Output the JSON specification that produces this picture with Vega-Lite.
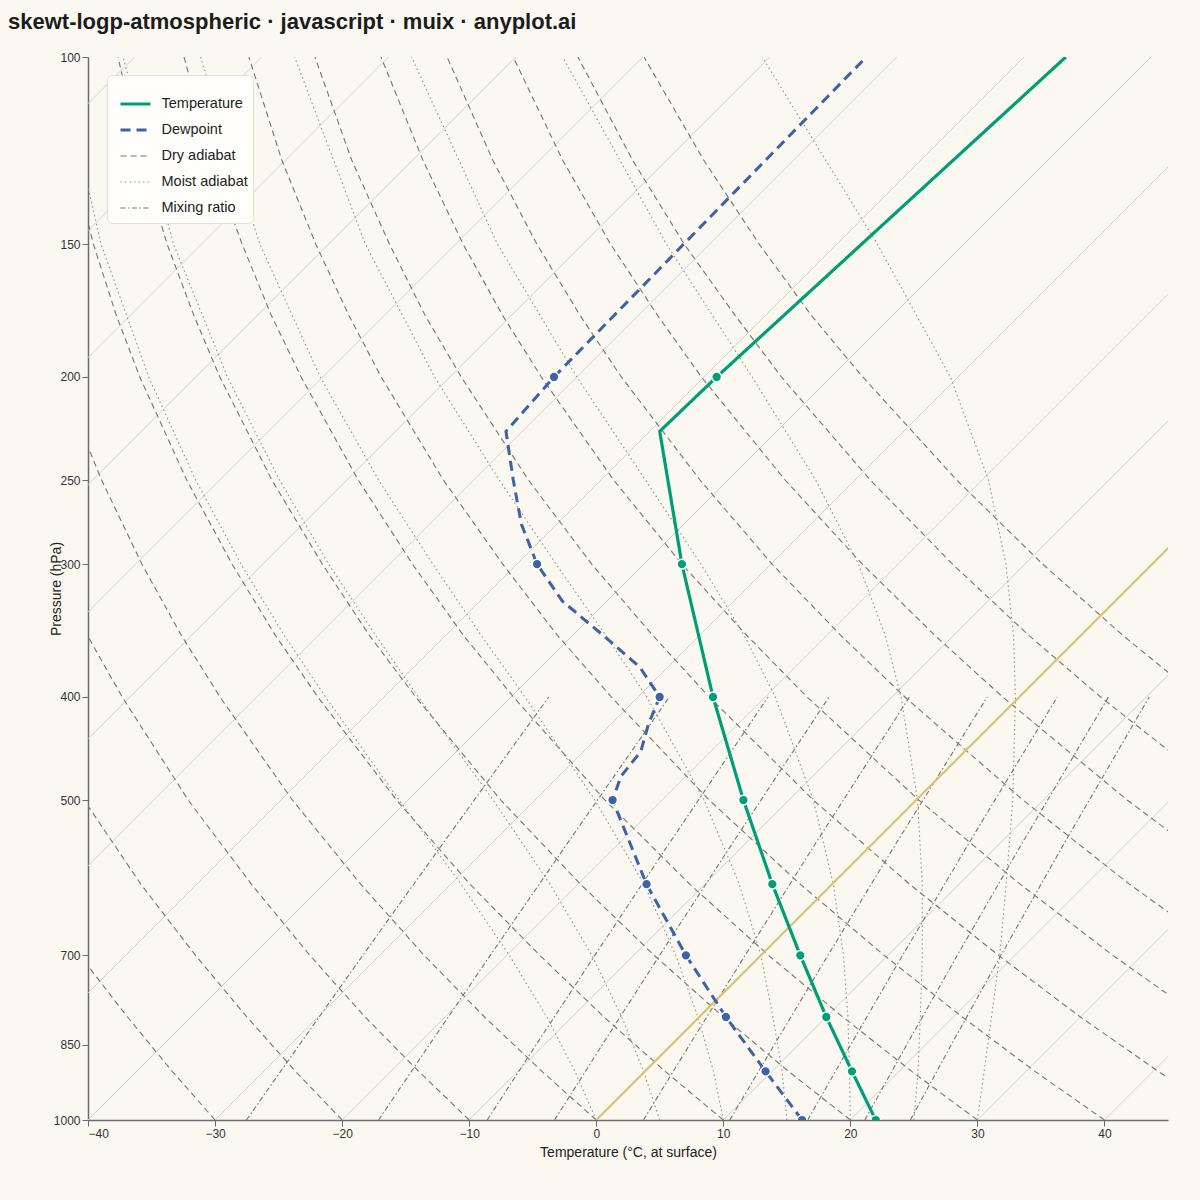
{
"$schema":"https://vega.github.io/schema/vega-lite/v6.json",
"width":1080,"height":1063,
"autosize":{"type":"none"},
"padding":{"left":88,"top":57,"right":32,"bottom":80},
"background":"#faf8f1",
"title":{"text":"skewt-logp-atmospheric · javascript · muix · anyplot.ai","anchor":"start","frame":"group","dx":-80,"offset":17,"fontSize":22,"fontWeight":"bold","font":"Liberation Sans","color":"#1c1c1c"},
"config":{"view":{"stroke":null},"font":"Liberation Sans",
 "axis":{"labelFont":"Liberation Sans","labelFontSize":12,"labelColor":"#333333","titleFont":"Liberation Sans","titleFontSize":14,"titleFontWeight":"normal","titleColor":"#222222","domainColor":"#6b6b6b","domainWidth":1.5,"tickColor":"#6b6b6b","tickSize":6,"labelPadding":2,"grid":false}},
"data":{"values":[
{"s":"Isotherm","id":"i-120","p":1000,"T":-120},{"s":"Isotherm","id":"i-120","p":100,"T":-120},
{"s":"Isotherm","id":"i-110","p":1000,"T":-110},{"s":"Isotherm","id":"i-110","p":100,"T":-110},
{"s":"Isotherm","id":"i-100","p":1000,"T":-100},{"s":"Isotherm","id":"i-100","p":100,"T":-100},
{"s":"Isotherm","id":"i-90","p":1000,"T":-90},{"s":"Isotherm","id":"i-90","p":100,"T":-90},
{"s":"Isotherm","id":"i-80","p":1000,"T":-80},{"s":"Isotherm","id":"i-80","p":100,"T":-80},
{"s":"Isotherm","id":"i-70","p":1000,"T":-70},{"s":"Isotherm","id":"i-70","p":100,"T":-70},
{"s":"Isotherm","id":"i-60","p":1000,"T":-60},{"s":"Isotherm","id":"i-60","p":100,"T":-60},
{"s":"Isotherm","id":"i-50","p":1000,"T":-50},{"s":"Isotherm","id":"i-50","p":100,"T":-50},
{"s":"Isotherm","id":"i-40","p":1000,"T":-40},{"s":"Isotherm","id":"i-40","p":100,"T":-40},
{"s":"Isotherm","id":"i-30","p":1000,"T":-30},{"s":"Isotherm","id":"i-30","p":100,"T":-30},
{"s":"Isotherm","id":"i-20","p":1000,"T":-20},{"s":"Isotherm","id":"i-20","p":100,"T":-20},
{"s":"Isotherm","id":"i-10","p":1000,"T":-10},{"s":"Isotherm","id":"i-10","p":100,"T":-10},
{"s":"Isotherm","id":"i0","p":1000,"T":0},{"s":"Isotherm","id":"i0","p":100,"T":0},
{"s":"Isotherm","id":"i10","p":1000,"T":10},{"s":"Isotherm","id":"i10","p":100,"T":10},
{"s":"Isotherm","id":"i20","p":1000,"T":20},{"s":"Isotherm","id":"i20","p":100,"T":20},
{"s":"Isotherm","id":"i30","p":1000,"T":30},{"s":"Isotherm","id":"i30","p":100,"T":30},
{"s":"Isotherm","id":"i40","p":1000,"T":40},{"s":"Isotherm","id":"i40","p":100,"T":40},

{"s":"Dry adiabat","id":"d-30","p":1000,"T":-30},{"s":"Dry adiabat","id":"d-30","p":900,"T":-37.2},{"s":"Dry adiabat","id":"d-30","p":800,"T":-45.0},{"s":"Dry adiabat","id":"d-30","p":700,"T":-53.6},{"s":"Dry adiabat","id":"d-30","p":600,"T":-63.0},
{"s":"Dry adiabat","id":"d-20","p":1000,"T":-20},{"s":"Dry adiabat","id":"d-20","p":900,"T":-27.5},{"s":"Dry adiabat","id":"d-20","p":800,"T":-35.6},{"s":"Dry adiabat","id":"d-20","p":700,"T":-44.5},{"s":"Dry adiabat","id":"d-20","p":600,"T":-54.4},{"s":"Dry adiabat","id":"d-20","p":500,"T":-65.5},{"s":"Dry adiabat","id":"d-20","p":400,"T":-78.3},
{"s":"Dry adiabat","id":"d-10","p":1000,"T":-10},{"s":"Dry adiabat","id":"d-10","p":900,"T":-17.8},{"s":"Dry adiabat","id":"d-10","p":800,"T":-26.3},{"s":"Dry adiabat","id":"d-10","p":700,"T":-35.5},{"s":"Dry adiabat","id":"d-10","p":600,"T":-45.7},{"s":"Dry adiabat","id":"d-10","p":500,"T":-57.3},{"s":"Dry adiabat","id":"d-10","p":400,"T":-70.6},{"s":"Dry adiabat","id":"d-10","p":350,"T":-78.2},{"s":"Dry adiabat","id":"d-10","p":300,"T":-86.6},{"s":"Dry adiabat","id":"d-10","p":250,"T":-96.1},
{"s":"Dry adiabat","id":"d0","p":1000,"T":0},{"s":"Dry adiabat","id":"d0","p":900,"T":-8.1},{"s":"Dry adiabat","id":"d0","p":800,"T":-16.9},{"s":"Dry adiabat","id":"d0","p":700,"T":-26.5},{"s":"Dry adiabat","id":"d0","p":600,"T":-37.1},{"s":"Dry adiabat","id":"d0","p":500,"T":-49.1},{"s":"Dry adiabat","id":"d0","p":400,"T":-62.9},{"s":"Dry adiabat","id":"d0","p":350,"T":-70.8},{"s":"Dry adiabat","id":"d0","p":300,"T":-79.5},{"s":"Dry adiabat","id":"d0","p":250,"T":-89.3},{"s":"Dry adiabat","id":"d0","p":200,"T":-100.7},{"s":"Dry adiabat","id":"d0","p":175,"T":-107.1},
{"s":"Dry adiabat","id":"d10","p":1000,"T":10},{"s":"Dry adiabat","id":"d10","p":900,"T":1.6},{"s":"Dry adiabat","id":"d10","p":800,"T":-7.5},{"s":"Dry adiabat","id":"d10","p":700,"T":-17.4},{"s":"Dry adiabat","id":"d10","p":600,"T":-28.5},{"s":"Dry adiabat","id":"d10","p":500,"T":-40.9},{"s":"Dry adiabat","id":"d10","p":400,"T":-55.2},{"s":"Dry adiabat","id":"d10","p":350,"T":-63.4},{"s":"Dry adiabat","id":"d10","p":300,"T":-72.4},{"s":"Dry adiabat","id":"d10","p":250,"T":-82.6},{"s":"Dry adiabat","id":"d10","p":200,"T":-94.4},{"s":"Dry adiabat","id":"d10","p":175,"T":-101.1},{"s":"Dry adiabat","id":"d10","p":150,"T":-108.5},{"s":"Dry adiabat","id":"d10","p":125,"T":-116.8},{"s":"Dry adiabat","id":"d10","p":100,"T":-126.5},
{"s":"Dry adiabat","id":"d20","p":1000,"T":20},{"s":"Dry adiabat","id":"d20","p":900,"T":11.3},{"s":"Dry adiabat","id":"d20","p":800,"T":1.9},{"s":"Dry adiabat","id":"d20","p":700,"T":-8.4},{"s":"Dry adiabat","id":"d20","p":600,"T":-19.8},{"s":"Dry adiabat","id":"d20","p":500,"T":-32.7},{"s":"Dry adiabat","id":"d20","p":400,"T":-47.5},{"s":"Dry adiabat","id":"d20","p":350,"T":-56.0},{"s":"Dry adiabat","id":"d20","p":300,"T":-65.3},{"s":"Dry adiabat","id":"d20","p":250,"T":-75.9},{"s":"Dry adiabat","id":"d20","p":200,"T":-88.1},{"s":"Dry adiabat","id":"d20","p":175,"T":-95.0},{"s":"Dry adiabat","id":"d20","p":150,"T":-102.7},{"s":"Dry adiabat","id":"d20","p":125,"T":-111.3},{"s":"Dry adiabat","id":"d20","p":100,"T":-121.3},
{"s":"Dry adiabat","id":"d30","p":1000,"T":30},{"s":"Dry adiabat","id":"d30","p":900,"T":21.0},{"s":"Dry adiabat","id":"d30","p":800,"T":11.3},{"s":"Dry adiabat","id":"d30","p":700,"T":0.6},{"s":"Dry adiabat","id":"d30","p":600,"T":-11.2},{"s":"Dry adiabat","id":"d30","p":500,"T":-24.5},{"s":"Dry adiabat","id":"d30","p":400,"T":-39.8},{"s":"Dry adiabat","id":"d30","p":350,"T":-48.6},{"s":"Dry adiabat","id":"d30","p":300,"T":-58.2},{"s":"Dry adiabat","id":"d30","p":250,"T":-69.1},{"s":"Dry adiabat","id":"d30","p":200,"T":-81.7},{"s":"Dry adiabat","id":"d30","p":175,"T":-88.9},{"s":"Dry adiabat","id":"d30","p":150,"T":-96.8},{"s":"Dry adiabat","id":"d30","p":125,"T":-105.8},{"s":"Dry adiabat","id":"d30","p":100,"T":-116.1},
{"s":"Dry adiabat","id":"d40","p":1000,"T":40},{"s":"Dry adiabat","id":"d40","p":900,"T":30.7},{"s":"Dry adiabat","id":"d40","p":800,"T":20.7},{"s":"Dry adiabat","id":"d40","p":700,"T":9.7},{"s":"Dry adiabat","id":"d40","p":600,"T":-2.5},{"s":"Dry adiabat","id":"d40","p":500,"T":-16.3},{"s":"Dry adiabat","id":"d40","p":400,"T":-32.1},{"s":"Dry adiabat","id":"d40","p":350,"T":-41.2},{"s":"Dry adiabat","id":"d40","p":300,"T":-51.1},{"s":"Dry adiabat","id":"d40","p":250,"T":-62.4},{"s":"Dry adiabat","id":"d40","p":200,"T":-75.4},{"s":"Dry adiabat","id":"d40","p":175,"T":-82.8},{"s":"Dry adiabat","id":"d40","p":150,"T":-91.0},{"s":"Dry adiabat","id":"d40","p":125,"T":-100.3},{"s":"Dry adiabat","id":"d40","p":100,"T":-111.0},
{"s":"Dry adiabat","id":"d50","p":1000,"T":50},{"s":"Dry adiabat","id":"d50","p":900,"T":40.4},{"s":"Dry adiabat","id":"d50","p":800,"T":30.0},{"s":"Dry adiabat","id":"d50","p":700,"T":18.7},{"s":"Dry adiabat","id":"d50","p":600,"T":6.1},{"s":"Dry adiabat","id":"d50","p":500,"T":-8.1},{"s":"Dry adiabat","id":"d50","p":400,"T":-24.4},{"s":"Dry adiabat","id":"d50","p":350,"T":-33.7},{"s":"Dry adiabat","id":"d50","p":300,"T":-44.1},{"s":"Dry adiabat","id":"d50","p":250,"T":-55.7},{"s":"Dry adiabat","id":"d50","p":200,"T":-69.1},{"s":"Dry adiabat","id":"d50","p":175,"T":-76.8},{"s":"Dry adiabat","id":"d50","p":150,"T":-85.2},{"s":"Dry adiabat","id":"d50","p":125,"T":-94.8},{"s":"Dry adiabat","id":"d50","p":100,"T":-105.8},
{"s":"Dry adiabat","id":"d60","p":1000,"T":60},{"s":"Dry adiabat","id":"d60","p":900,"T":50.1},{"s":"Dry adiabat","id":"d60","p":800,"T":39.4},{"s":"Dry adiabat","id":"d60","p":700,"T":27.7},{"s":"Dry adiabat","id":"d60","p":600,"T":14.8},{"s":"Dry adiabat","id":"d60","p":500,"T":0.2},{"s":"Dry adiabat","id":"d60","p":400,"T":-16.7},{"s":"Dry adiabat","id":"d60","p":350,"T":-26.3},{"s":"Dry adiabat","id":"d60","p":300,"T":-37.0},{"s":"Dry adiabat","id":"d60","p":250,"T":-49.0},{"s":"Dry adiabat","id":"d60","p":200,"T":-62.8},{"s":"Dry adiabat","id":"d60","p":175,"T":-70.7},{"s":"Dry adiabat","id":"d60","p":150,"T":-79.4},{"s":"Dry adiabat","id":"d60","p":125,"T":-89.2},{"s":"Dry adiabat","id":"d60","p":100,"T":-100.6},
{"s":"Dry adiabat","id":"d70","p":800,"T":48.8},{"s":"Dry adiabat","id":"d70","p":700,"T":36.8},{"s":"Dry adiabat","id":"d70","p":600,"T":23.4},{"s":"Dry adiabat","id":"d70","p":500,"T":8.4},{"s":"Dry adiabat","id":"d70","p":400,"T":-9.0},{"s":"Dry adiabat","id":"d70","p":350,"T":-18.9},{"s":"Dry adiabat","id":"d70","p":300,"T":-29.9},{"s":"Dry adiabat","id":"d70","p":250,"T":-42.2},{"s":"Dry adiabat","id":"d70","p":200,"T":-56.5},{"s":"Dry adiabat","id":"d70","p":175,"T":-64.6},{"s":"Dry adiabat","id":"d70","p":150,"T":-73.6},{"s":"Dry adiabat","id":"d70","p":125,"T":-83.7},{"s":"Dry adiabat","id":"d70","p":100,"T":-95.4},
{"s":"Dry adiabat","id":"d80","p":700,"T":45.8},{"s":"Dry adiabat","id":"d80","p":600,"T":32.1},{"s":"Dry adiabat","id":"d80","p":500,"T":16.6},{"s":"Dry adiabat","id":"d80","p":400,"T":-1.3},{"s":"Dry adiabat","id":"d80","p":350,"T":-11.5},{"s":"Dry adiabat","id":"d80","p":300,"T":-22.8},{"s":"Dry adiabat","id":"d80","p":250,"T":-35.5},{"s":"Dry adiabat","id":"d80","p":200,"T":-50.2},{"s":"Dry adiabat","id":"d80","p":175,"T":-58.5},{"s":"Dry adiabat","id":"d80","p":150,"T":-67.8},{"s":"Dry adiabat","id":"d80","p":125,"T":-78.2},{"s":"Dry adiabat","id":"d80","p":100,"T":-90.2},
{"s":"Dry adiabat","id":"d90","p":600,"T":40.7},{"s":"Dry adiabat","id":"d90","p":500,"T":24.8},{"s":"Dry adiabat","id":"d90","p":400,"T":6.4},{"s":"Dry adiabat","id":"d90","p":350,"T":-4.1},{"s":"Dry adiabat","id":"d90","p":300,"T":-15.7},{"s":"Dry adiabat","id":"d90","p":250,"T":-28.8},{"s":"Dry adiabat","id":"d90","p":200,"T":-43.9},{"s":"Dry adiabat","id":"d90","p":175,"T":-52.4},{"s":"Dry adiabat","id":"d90","p":150,"T":-62.0},{"s":"Dry adiabat","id":"d90","p":125,"T":-72.7},{"s":"Dry adiabat","id":"d90","p":100,"T":-85.1},
{"s":"Dry adiabat","id":"d100","p":500,"T":33.0},{"s":"Dry adiabat","id":"d100","p":400,"T":14.1},{"s":"Dry adiabat","id":"d100","p":350,"T":3.3},{"s":"Dry adiabat","id":"d100","p":300,"T":-8.6},{"s":"Dry adiabat","id":"d100","p":250,"T":-22.0},{"s":"Dry adiabat","id":"d100","p":200,"T":-37.5},{"s":"Dry adiabat","id":"d100","p":175,"T":-46.4},{"s":"Dry adiabat","id":"d100","p":150,"T":-56.1},{"s":"Dry adiabat","id":"d100","p":125,"T":-67.1},{"s":"Dry adiabat","id":"d100","p":100,"T":-79.9},

{"s":"Moist adiabat","id":"m0","p":1000,"T":0},{"s":"Moist adiabat","id":"m0","p":900,"T":-5.5},{"s":"Moist adiabat","id":"m0","p":800,"T":-12.0},{"s":"Moist adiabat","id":"m0","p":700,"T":-19.8},{"s":"Moist adiabat","id":"m0","p":600,"T":-29.2},{"s":"Moist adiabat","id":"m0","p":500,"T":-40.7},{"s":"Moist adiabat","id":"m0","p":400,"T":-54.6},{"s":"Moist adiabat","id":"m0","p":350,"T":-62.7},{"s":"Moist adiabat","id":"m0","p":300,"T":-71.7},{"s":"Moist adiabat","id":"m0","p":250,"T":-81.9},{"s":"Moist adiabat","id":"m0","p":200,"T":-93.7},{"s":"Moist adiabat","id":"m0","p":150,"T":-107.9},{"s":"Moist adiabat","id":"m0","p":100,"T":-126.0},
{"s":"Moist adiabat","id":"m5","p":1000,"T":5},{"s":"Moist adiabat","id":"m5","p":900,"T":-0.1},{"s":"Moist adiabat","id":"m5","p":800,"T":-6.1},{"s":"Moist adiabat","id":"m5","p":700,"T":-13.3},{"s":"Moist adiabat","id":"m5","p":600,"T":-22.2},{"s":"Moist adiabat","id":"m5","p":500,"T":-33.3},{"s":"Moist adiabat","id":"m5","p":400,"T":-47.3},{"s":"Moist adiabat","id":"m5","p":350,"T":-55.5},{"s":"Moist adiabat","id":"m5","p":300,"T":-64.8},{"s":"Moist adiabat","id":"m5","p":250,"T":-75.3},{"s":"Moist adiabat","id":"m5","p":200,"T":-87.5},{"s":"Moist adiabat","id":"m5","p":150,"T":-102.2},{"s":"Moist adiabat","id":"m5","p":100,"T":-120.9},
{"s":"Moist adiabat","id":"m10","p":1000,"T":10},{"s":"Moist adiabat","id":"m10","p":900,"T":5.4},{"s":"Moist adiabat","id":"m10","p":800,"T":-0.1},{"s":"Moist adiabat","id":"m10","p":700,"T":-6.7},{"s":"Moist adiabat","id":"m10","p":600,"T":-14.8},{"s":"Moist adiabat","id":"m10","p":500,"T":-25.3},{"s":"Moist adiabat","id":"m10","p":400,"T":-38.9},{"s":"Moist adiabat","id":"m10","p":350,"T":-47.2},{"s":"Moist adiabat","id":"m10","p":300,"T":-56.6},{"s":"Moist adiabat","id":"m10","p":250,"T":-67.5},{"s":"Moist adiabat","id":"m10","p":200,"T":-80.2},{"s":"Moist adiabat","id":"m10","p":150,"T":-95.4},{"s":"Moist adiabat","id":"m10","p":100,"T":-114.8},
{"s":"Moist adiabat","id":"m15","p":1000,"T":15},{"s":"Moist adiabat","id":"m15","p":900,"T":10.8},{"s":"Moist adiabat","id":"m15","p":800,"T":5.8},{"s":"Moist adiabat","id":"m15","p":700,"T":0.0},{"s":"Moist adiabat","id":"m15","p":600,"T":-7.3},{"s":"Moist adiabat","id":"m15","p":500,"T":-16.7},{"s":"Moist adiabat","id":"m15","p":400,"T":-29.3},{"s":"Moist adiabat","id":"m15","p":350,"T":-37.4},{"s":"Moist adiabat","id":"m15","p":300,"T":-46.9},{"s":"Moist adiabat","id":"m15","p":250,"T":-58.0},{"s":"Moist adiabat","id":"m15","p":200,"T":-71.2},{"s":"Moist adiabat","id":"m15","p":150,"T":-87.1},{"s":"Moist adiabat","id":"m15","p":100,"T":-107.4},
{"s":"Moist adiabat","id":"m20","p":1000,"T":20},{"s":"Moist adiabat","id":"m20","p":900,"T":16.1},{"s":"Moist adiabat","id":"m20","p":800,"T":11.7},{"s":"Moist adiabat","id":"m20","p":700,"T":6.5},{"s":"Moist adiabat","id":"m20","p":600,"T":0.1},{"s":"Moist adiabat","id":"m20","p":500,"T":-8.1},{"s":"Moist adiabat","id":"m20","p":400,"T":-19.2},{"s":"Moist adiabat","id":"m20","p":350,"T":-26.5},{"s":"Moist adiabat","id":"m20","p":300,"T":-35.5},{"s":"Moist adiabat","id":"m20","p":250,"T":-46.5},{"s":"Moist adiabat","id":"m20","p":200,"T":-60.0},{"s":"Moist adiabat","id":"m20","p":150,"T":-76.7},{"s":"Moist adiabat","id":"m20","p":100,"T":-98.2},
{"s":"Moist adiabat","id":"m25","p":1000,"T":25},{"s":"Moist adiabat","id":"m25","p":900,"T":21.5},{"s":"Moist adiabat","id":"m25","p":800,"T":17.4},{"s":"Moist adiabat","id":"m25","p":700,"T":12.7},{"s":"Moist adiabat","id":"m25","p":600,"T":7.1},{"s":"Moist adiabat","id":"m25","p":500,"T":0.1},{"s":"Moist adiabat","id":"m25","p":400,"T":-9.3},{"s":"Moist adiabat","id":"m25","p":350,"T":-15.4},{"s":"Moist adiabat","id":"m25","p":300,"T":-23.1},{"s":"Moist adiabat","id":"m25","p":250,"T":-33.1},{"s":"Moist adiabat","id":"m25","p":200,"T":-46.2},{"s":"Moist adiabat","id":"m25","p":150,"T":-63.4},{"s":"Moist adiabat","id":"m25","p":100,"T":-86.3},
{"s":"Moist adiabat","id":"m30","p":1000,"T":30},{"s":"Moist adiabat","id":"m30","p":900,"T":26.7},{"s":"Moist adiabat","id":"m30","p":800,"T":23.0},{"s":"Moist adiabat","id":"m30","p":700,"T":18.8},{"s":"Moist adiabat","id":"m30","p":600,"T":13.7},{"s":"Moist adiabat","id":"m30","p":500,"T":7.6},{"s":"Moist adiabat","id":"m30","p":400,"T":-0.3},{"s":"Moist adiabat","id":"m30","p":350,"T":-5.3},{"s":"Moist adiabat","id":"m30","p":300,"T":-11.5},{"s":"Moist adiabat","id":"m30","p":250,"T":-19.5},{"s":"Moist adiabat","id":"m30","p":200,"T":-30.6},{"s":"Moist adiabat","id":"m30","p":150,"T":-46.8},{"s":"Moist adiabat","id":"m30","p":100,"T":-70.6},

{"s":"Mixing ratio","id":"w0.4","p":1000,"T":-27.53},{"s":"Mixing ratio","id":"w0.4","p":850,"T":-29.28},{"s":"Mixing ratio","id":"w0.4","p":700,"T":-31.33},{"s":"Mixing ratio","id":"w0.4","p":550,"T":-33.82},{"s":"Mixing ratio","id":"w0.4","p":400,"T":-37.03},
{"s":"Mixing ratio","id":"w1","p":1000,"T":-17.13},{"s":"Mixing ratio","id":"w1","p":850,"T":-19.05},{"s":"Mixing ratio","id":"w1","p":700,"T":-21.30},{"s":"Mixing ratio","id":"w1","p":550,"T":-24.03},{"s":"Mixing ratio","id":"w1","p":400,"T":-27.54},
{"s":"Mixing ratio","id":"w2","p":1000,"T":-8.58},{"s":"Mixing ratio","id":"w2","p":850,"T":-10.65},{"s":"Mixing ratio","id":"w2","p":700,"T":-13.07},{"s":"Mixing ratio","id":"w2","p":550,"T":-16.01},{"s":"Mixing ratio","id":"w2","p":400,"T":-19.77},
{"s":"Mixing ratio","id":"w3","p":1000,"T":-3.28},{"s":"Mixing ratio","id":"w3","p":850,"T":-5.44},{"s":"Mixing ratio","id":"w3","p":700,"T":-7.97},{"s":"Mixing ratio","id":"w3","p":550,"T":-11.04},{"s":"Mixing ratio","id":"w3","p":400,"T":-14.97},
{"s":"Mixing ratio","id":"w5","p":1000,"T":3.72},{"s":"Mixing ratio","id":"w5","p":850,"T":1.43},{"s":"Mixing ratio","id":"w5","p":700,"T":-1.24},{"s":"Mixing ratio","id":"w5","p":550,"T":-4.49},{"s":"Mixing ratio","id":"w5","p":400,"T":-8.64},
{"s":"Mixing ratio","id":"w8","p":1000,"T":10.51},{"s":"Mixing ratio","id":"w8","p":850,"T":8.10},{"s":"Mixing ratio","id":"w8","p":700,"T":5.27},{"s":"Mixing ratio","id":"w8","p":550,"T":1.85},{"s":"Mixing ratio","id":"w8","p":400,"T":-2.52},
{"s":"Mixing ratio","id":"w12","p":1000,"T":16.64},{"s":"Mixing ratio","id":"w12","p":850,"T":14.11},{"s":"Mixing ratio","id":"w12","p":700,"T":11.15},{"s":"Mixing ratio","id":"w12","p":550,"T":7.57},{"s":"Mixing ratio","id":"w12","p":400,"T":2.99},
{"s":"Mixing ratio","id":"w16","p":1000,"T":21.14},{"s":"Mixing ratio","id":"w16","p":850,"T":18.52},{"s":"Mixing ratio","id":"w16","p":700,"T":15.46},{"s":"Mixing ratio","id":"w16","p":550,"T":11.76},{"s":"Mixing ratio","id":"w16","p":400,"T":7.02},
{"s":"Mixing ratio","id":"w20","p":1000,"T":24.72},{"s":"Mixing ratio","id":"w20","p":850,"T":22.03},{"s":"Mixing ratio","id":"w20","p":700,"T":18.89},{"s":"Mixing ratio","id":"w20","p":550,"T":15.08},{"s":"Mixing ratio","id":"w20","p":400,"T":10.23},

{"s":"Temperature","id":"T","p":1000,"T":22.0},{"s":"Temperature","id":"T","p":900,"T":16.3},{"s":"Temperature","id":"T","p":800,"T":10.0},{"s":"Temperature","id":"T","p":700,"T":3.1},{"s":"Temperature","id":"T","p":600,"T":-4.7},{"s":"Temperature","id":"T","p":500,"T":-13.6},{"s":"Temperature","id":"T","p":400,"T":-24.1},{"s":"Temperature","id":"T","p":300,"T":-37.0},{"s":"Temperature","id":"T","p":225,"T":-49.2},{"s":"Temperature","id":"T","p":200,"T":-49.0},{"s":"Temperature","id":"T","p":100,"T":-46.7},

{"s":"Dewpoint","id":"D","p":1000,"T":16.2},{"s":"Dewpoint","id":"D","p":900,"T":9.5},{"s":"Dewpoint","id":"D","p":800,"T":2.1},{"s":"Dewpoint","id":"D","p":700,"T":-5.9},{"s":"Dewpoint","id":"D","p":600,"T":-14.6},{"s":"Dewpoint","id":"D","p":500,"T":-23.9},{"s":"Dewpoint","id":"D","p":475,"T":-25.1},{"s":"Dewpoint","id":"D","p":450,"T":-25.5},{"s":"Dewpoint","id":"D","p":425,"T":-27.0},{"s":"Dewpoint","id":"D","p":400,"T":-28.3},{"s":"Dewpoint","id":"D","p":375,"T":-32.2},{"s":"Dewpoint","id":"D","p":350,"T":-37.6},{"s":"Dewpoint","id":"D","p":325,"T":-43.5},{"s":"Dewpoint","id":"D","p":300,"T":-48.4},{"s":"Dewpoint","id":"D","p":275,"T":-52.8},{"s":"Dewpoint","id":"D","p":250,"T":-56.9},{"s":"Dewpoint","id":"D","p":225,"T":-61.3},{"s":"Dewpoint","id":"D","p":200,"T":-61.8},{"s":"Dewpoint","id":"D","p":100,"T":-62.4}
]},
"transform":[{"calculate":"datum.T + 83.66 * log(1000 / datum.p) / LN10","as":"xs"}],
"encoding":{
 "x":{"field":"xs","type":"quantitative","scale":{"domain":[-40,45],"nice":false,"zero":false},
  "axis":{"values":[-40,-30,-20,-10,0,10,20,30,40],"title":"Temperature (°C, at surface)","titlePadding":6}},
 "y":{"field":"p","type":"quantitative","scale":{"type":"log","domain":[100,1000],"reverse":true,"nice":false},
  "axis":{"values":[100,150,200,250,300,400,500,700,850,1000],"format":"d","title":"Pressure (hPa)","titleX":-32,"titleY":531.5,"titleAngle":-90,"titleBaseline":"middle","titleAlign":"center"}}
},
"layer":[
 {"transform":[{"filter":"datum.s === 'Isotherm' && datum.T !== 0"}],
  "mark":{"type":"line","clip":true,"stroke":"#d4d2cc","strokeWidth":1},
  "encoding":{"detail":{"field":"id"},"order":{"field":"p","sort":"descending"}}},
 {"transform":[{"filter":"datum.s === 'Dry adiabat' || datum.s === 'Moist adiabat' || datum.s === 'Mixing ratio'"}],
  "mark":{"type":"line","clip":true},
  "encoding":{"detail":{"field":"id"},"order":{"field":"p","sort":"descending"},
   "color":{"field":"s","type":"nominal","scale":{"domain":["Temperature","Dewpoint","Dry adiabat","Moist adiabat","Mixing ratio"],"range":["#009e73","#3d62a6","#757575","#8f8f8f","#757575"]},
    "legend":{"title":"\u2003","orient":"none","legendX":19,"legendY":18,"padding":5,"fillColor":"#fffefa","strokeColor":"#e3e0d8","cornerRadius":5,"symbolType":"stroke","symbolSize":900,"symbolOffset":6.5,"labelOffset":9,"labelFontSize":14.5,"labelFont":"Liberation Sans","labelColor":"#222222","clipHeight":20,"rowPadding":6,"titleFontSize":12,"titlePadding":2,"symbolOpacity":1}},
   "strokeDash":{"field":"s","type":"nominal","scale":{"domain":["Temperature","Dewpoint","Dry adiabat","Moist adiabat","Mixing ratio"],"range":[[1,0],[10,6],[6,4],[1.5,3],[5,2.5,1.5,2.5]]}},
   "strokeWidth":{"field":"s","type":"nominal","scale":{"type":"ordinal","domain":["Temperature","Dewpoint","Dry adiabat","Moist adiabat","Mixing ratio"],"range":[3.2,3,1.1,1.1,1.1]}}}},
 {"transform":[{"filter":"datum.s === 'Isotherm' && datum.T === 0"}],
  "mark":{"type":"line","clip":true,"stroke":"#d9c36e","strokeWidth":2.2},
  "encoding":{"order":{"field":"p","sort":"descending"}}},
 {"transform":[{"filter":"datum.s === 'Temperature' || datum.s === 'Dewpoint'"}],
  "mark":{"type":"line","clip":true},
  "encoding":{"detail":{"field":"id"},"order":{"field":"p","sort":"descending"},
   "color":{"field":"s","type":"nominal","scale":{"domain":["Temperature","Dewpoint","Dry adiabat","Moist adiabat","Mixing ratio"],"range":["#009e73","#3d62a6","#757575","#8f8f8f","#757575"]}},
   "strokeDash":{"field":"s","type":"nominal","scale":{"domain":["Temperature","Dewpoint","Dry adiabat","Moist adiabat","Mixing ratio"],"range":[[1,0],[10,6],[6,4],[1.5,3],[5,2.5,1.5,2.5]]}},
   "strokeWidth":{"field":"s","type":"nominal","scale":{"type":"ordinal","domain":["Temperature","Dewpoint","Dry adiabat","Moist adiabat","Mixing ratio"],"range":[3.2,3,1.1,1.1,1.1]}}}},
 {"transform":[{"filter":{"and":[{"field":"s","equal":"Temperature"},{"field":"p","oneOf":[1000,900,800,700,600,500,400,300,200]}]}}],
  "mark":{"type":"circle","clip":true,"fill":"#009e73","stroke":"#ffffff","strokeWidth":1.5,"size":95,"opacity":1}},
 {"transform":[{"filter":{"and":[{"field":"s","equal":"Dewpoint"},{"field":"p","oneOf":[1000,900,800,700,600,500,400,300,200]}]}}],
  "mark":{"type":"circle","clip":true,"fill":"#3d62a6","stroke":"#ffffff","strokeWidth":1.5,"size":95,"opacity":1}}
]
}
